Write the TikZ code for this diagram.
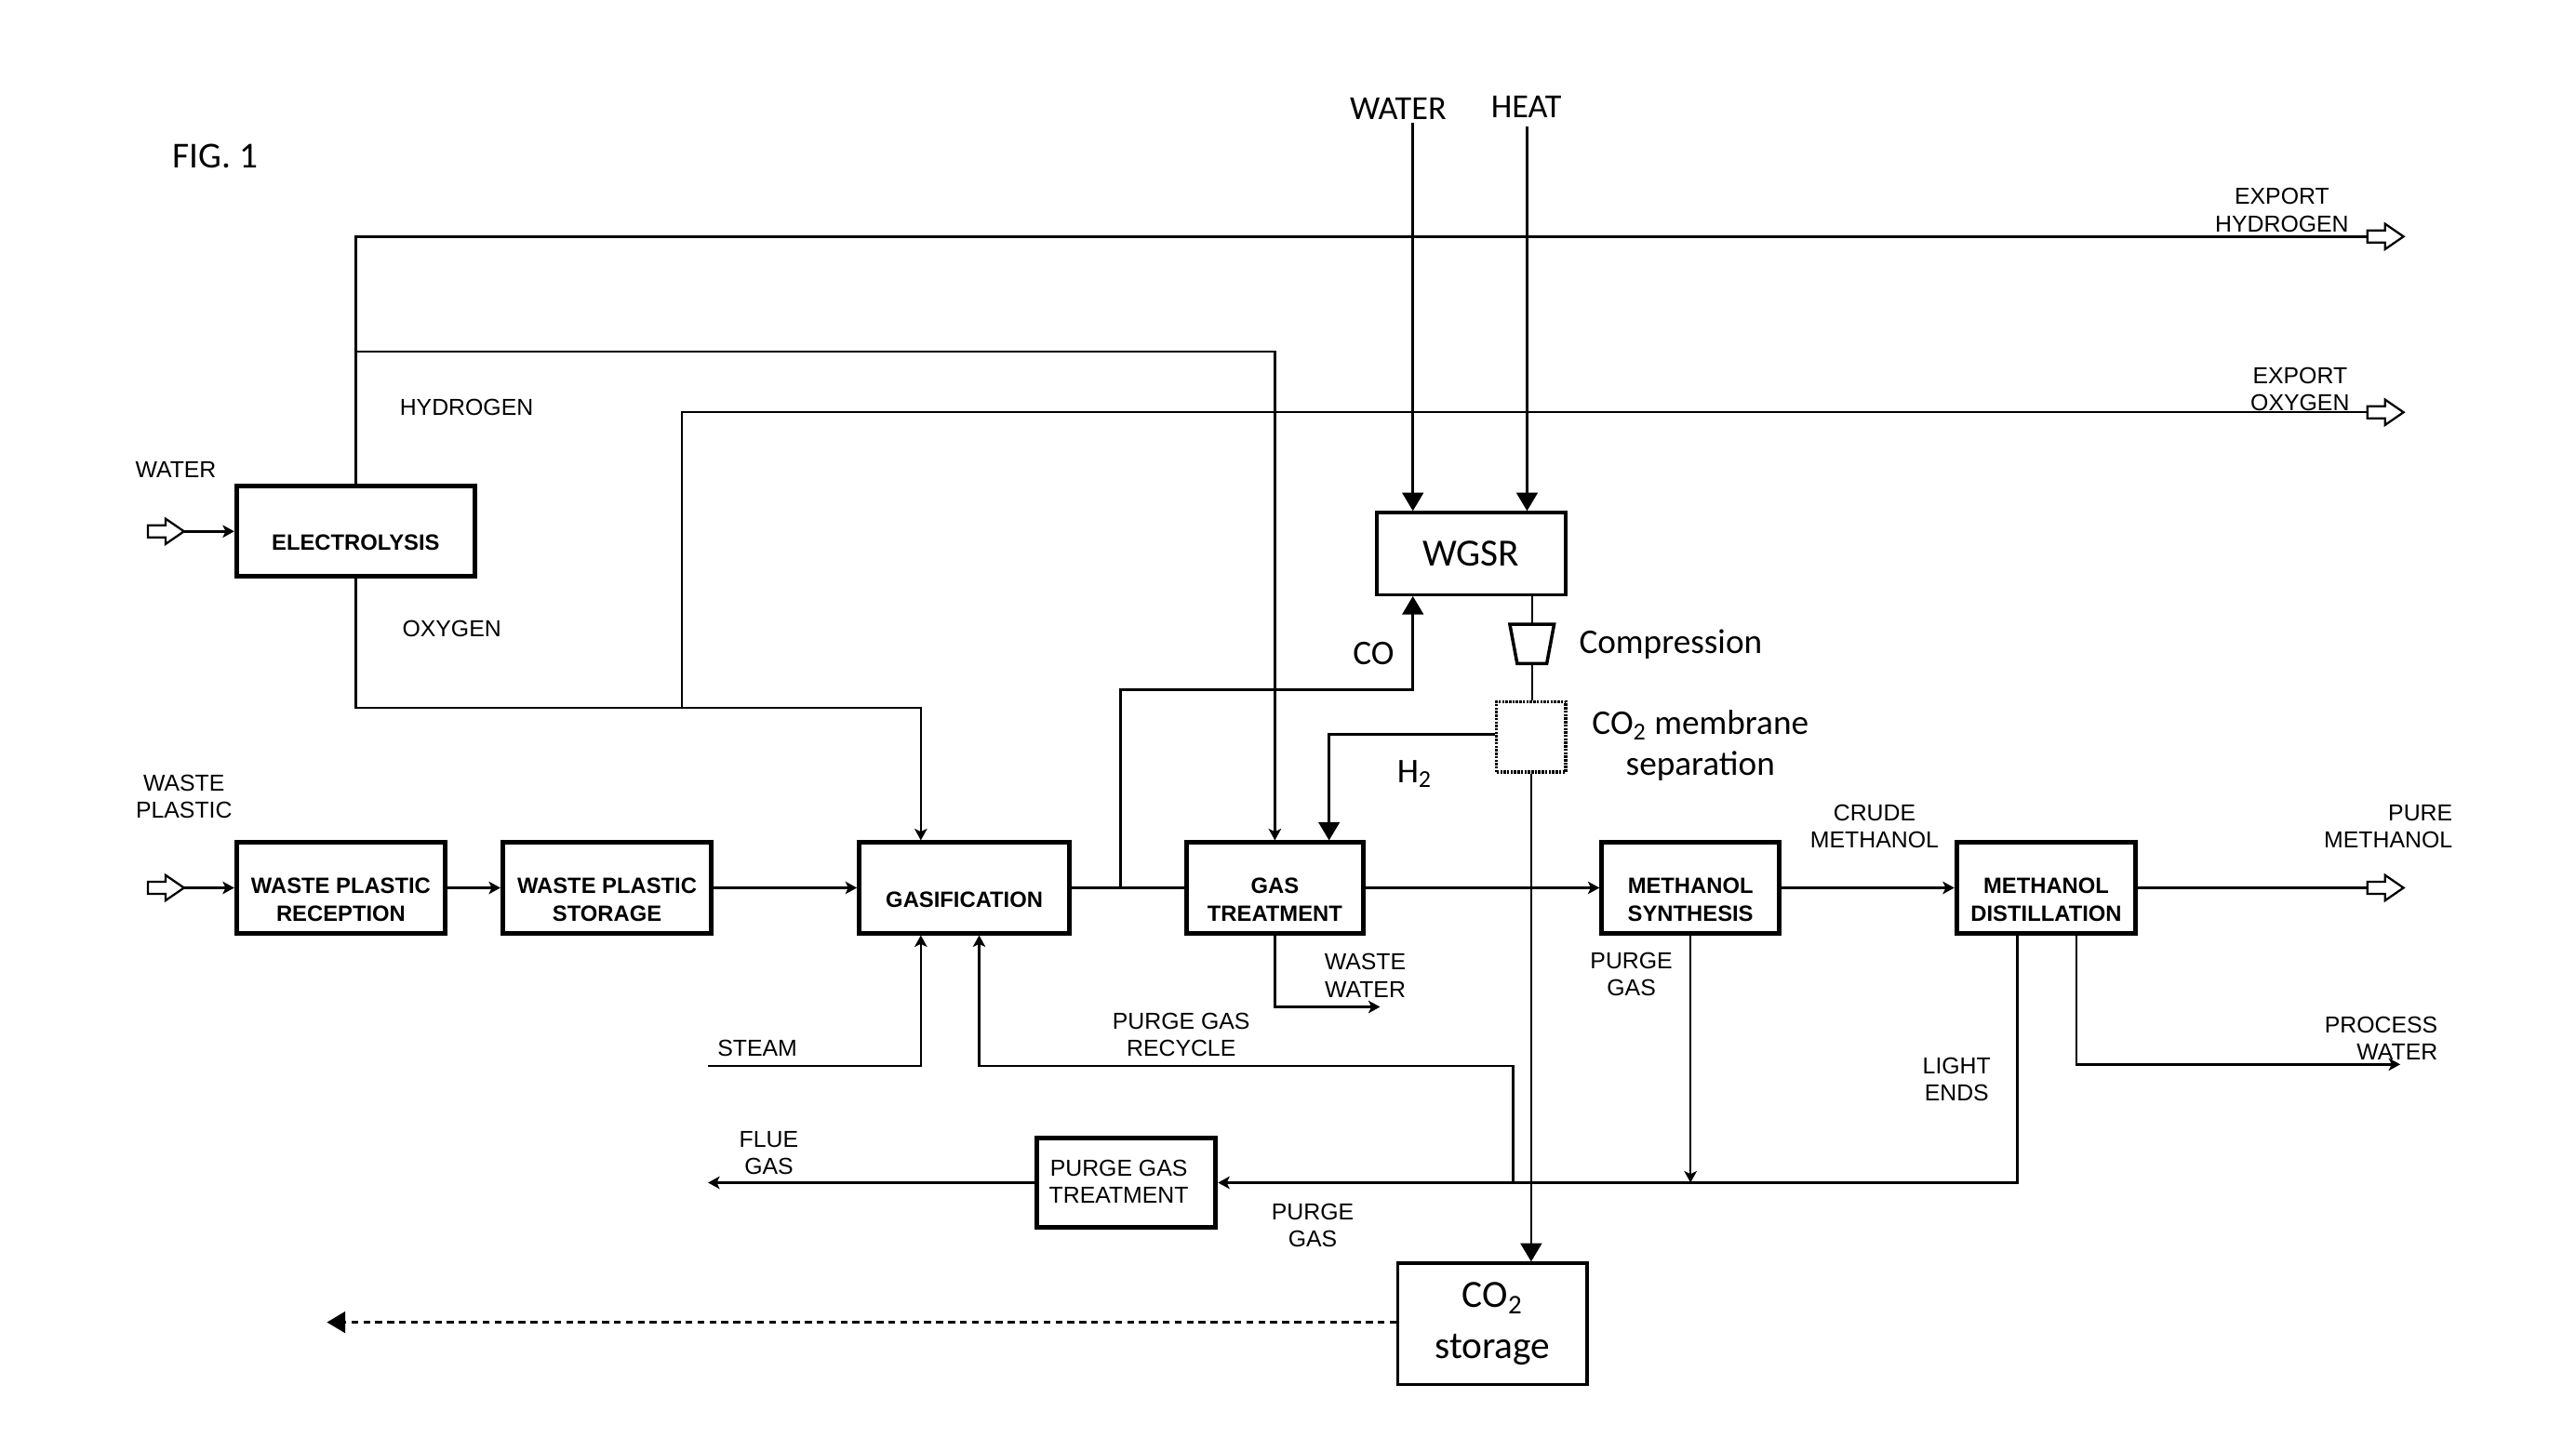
\documentclass[tikz,border=0pt]{standalone}
\usepackage{fontspec}
\setmainfont{Liberation Sans}
\newfontfamily\califont{Carlito}
\usetikzlibrary{arrows.meta}
\begin{document}
\begin{tikzpicture}[x=0.03cm,y=-0.03cm,
  flow/.style={line width=1.2pt},
  sarrow/.style={flow,-{Stealth[length=6pt,width=6.5pt,inset=1.5pt]}},
  barrow/.style={flow,-{Triangle[length=9.5pt,width=11pt]}},
  blk/.style={draw,line width=2.4pt,minimum height=1.65cm,inner sep=0pt},
  cblk/.style={draw,line width=1.6pt,inner sep=0pt,font=\califont\fontsize{20}{26.5}\selectfont,align=center},
  btxt/.style={font=\bfseries\fontsize{11.5}{14.5}\selectfont,align=center,inner sep=0pt},
  lbl/.style={font=\fontsize{12}{14.2}\selectfont,align=center,inner sep=0pt},
  clbl/.style={font=\califont\fontsize{18}{21}\selectfont,align=center,inner sep=0pt},
  openarr/.pic={\draw[line width=1.1pt,fill=white] (0,-3.7) -- (10.8,-3.7) -- (10.8,-7.7) -- (22,0) -- (10.8,7.7) -- (10.8,3.7) -- (0,3.7) -- cycle;}
]
\fill[white] (0,0) rectangle (1568,875);
\useasboundingbox (0,0) rectangle (1568,875);

% ---------- boxes ----------
\node[blk,minimum width=4.35cm] (ele) at (216.5,323.5) {};
\node[btxt] (eletxt) at (216.5,330.5) {ELECTROLYSIS};
\node[blk,minimum width=3.81cm] (wpr) at (207.5,540.5) {};
\node[btxt] (wprtxt) at (207.5,547.5) {WASTE PLASTIC\\RECEPTION};
\node[blk,minimum width=3.81cm] (wps) at (369.5,540.5) {};
\node[btxt] (wpstxt) at (369.5,547.5) {WASTE PLASTIC\\STORAGE};
\node[blk,minimum width=3.84cm] (gas) at (587,540.5) {};
\node[btxt] (gastxt) at (587,547.5) {GASIFICATION};
\node[blk,minimum width=3.24cm] (gt) at (776,540.5) {};
\node[btxt] (gttxt) at (776,547.5) {GAS\\TREATMENT};
\node[blk,minimum width=3.24cm] (ms) at (1029,540.5) {};
\node[btxt] (mstxt) at (1029,547.5) {METHANOL\\SYNTHESIS};
\node[blk,minimum width=3.27cm] (md) at (1245.5,540.5) {};
\node[btxt] (mdtxt) at (1245.5,547.5) {METHANOL\\DISTILLATION};
\node[blk,minimum width=3.27cm,minimum height=1.62cm] (pgt) at (685.5,720) {};
\node[lbl] (pgttxt) at (681,719.5) {PURGE GAS\\TREATMENT};
\node[cblk,minimum width=3.45cm,minimum height=1.5cm] (wgsr) at (895.5,337) {WGSR};
\node[draw,line width=1.5pt,dash pattern=on 1.2pt off 0.6pt,minimum width=1.26cm,minimum height=1.29cm,inner sep=0pt] (mem) at (932,448.5) {};
\node[cblk,minimum width=3.45cm,minimum height=2.22cm] (co2) at (908.5,806) {CO\textsubscript{2}\\storage};

% compressor
\coordinate (comptop) at (932.5,380);
\coordinate (compbot) at (932.5,404);
\draw[line width=1.7pt] (919,380) -- (946,380) -- (941.5,404) -- (923.5,404) -- cycle;
\draw[flow] (wgsr.south -| comptop) -- (comptop);
\draw[flow] (compbot) -- (compbot |- mem.north);

% ---------- electrolysis connections ----------
\coordinate (win) at (90,323.5);
\coordinate (win2) at (112,323.5);
\pic at (win) {openarr};
\draw[sarrow] (win2) -- (ele.west);

\coordinate (h1) at (216.5,144);
\coordinate (hexp) at (1441,144);
\draw[flow] (ele.north) -- (h1) -- (hexp);
\pic at (hexp) {openarr};
\coordinate (hb) at (216.5,214);
\draw[sarrow] (hb) -| (gt.north);

\coordinate (o1) at (216.5,431);
\coordinate (o2) at (560.5,431);
\draw[sarrow] (ele.south) -- (o1) -- (o2) -- (o2 |- gas.north);
\coordinate (o3) at (415,431);
\coordinate (oexp) at (1441,251);
\draw[flow] (o3) |- (oexp);
\pic at (oexp) {openarr};

% ---------- main row ----------
\coordinate (wpin) at (90,540.5);
\coordinate (wpin2) at (112,540.5);
\pic at (wpin) {openarr};
\draw[sarrow] (wpin2) -- (wpr.west);
\draw[sarrow] (wpr) -- (wps);
\draw[sarrow] (wps) -- (gas);
\draw[flow] (gas) -- (gt);
\draw[sarrow] (gt) -- (ms);
\draw[sarrow] (ms) -- (md);
\coordinate (pmexp) at (1441,540.5);
\draw[flow] (md.east) -- (pmexp);
\pic at (pmexp) {openarr};

% ---------- WGSR loop ----------
\coordinate (wl) at (860,75);
\coordinate (hl) at (929.5,77);
\draw[barrow] (wl) -- (wl |- wgsr.north);
\draw[barrow] (hl) -- (hl |- wgsr.north);
\coordinate (co1) at (682,540.5);
\coordinate (co2c) at (860,420);
\draw[barrow] (co1) |- (co2c) -- (co2c |- wgsr.south);
\coordinate (h2c) at (809,447);
\draw[barrow] (mem.west |- h2c) -- (h2c) -- (h2c |- gt.north);
\draw[barrow] (mem.south) -- (mem.south |- co2.north);
\coordinate (dashend) at (199,805);
\draw[barrow,line width=1.2pt,dash pattern=on 3.6pt off 2.6pt] (co2.west |- dashend) -- (dashend);

% ---------- lower streams ----------
\coordinate (ww) at (840,613);
\draw[sarrow] (gt.south) |- (ww);
\coordinate (st) at (431,649);
\coordinate (st2) at (560.5,649);
\draw[sarrow] (st) -- (st2) -- (st2 |- gas.south);
\coordinate (rc1) at (921,720);
\coordinate (rc2) at (596,649);
\draw[sarrow] (rc1) |- (rc2) -- (rc2 |- gas.south);
\coordinate (le) at (1228,720);
\draw[sarrow] (le |- md.south) -- (le) -- (pgt.east);
\draw[sarrow] (ms.south) -- (ms.south |- le);
\coordinate (pwx) at (1264,648);
\coordinate (pw) at (1461,648);
\draw[sarrow] (pwx |- md.south) -- (pwx) -- (pw);
\coordinate (flue) at (431,720);
\draw[sarrow] (pgt.west) -- (flue);

% ---------- labels ----------
\node[clbl,font=\califont\fontsize{19}{22}\selectfont] (fig) at (131,95) {FIG. 1};
\node[clbl,font=\califont\fontsize{17.5}{21}\selectfont] (lwatertop) at (851,66) {WATER};
\node[clbl,font=\califont\fontsize{17.5}{21}\selectfont] (lheat) at (929,65) {HEAT};
\node[clbl,anchor=west] (lcomp) at (961,392) {Compression};
\node[clbl] (lco) at (836,398) {CO};
\node[clbl] (lh2) at (861,471) {H\textsubscript{2}};
\node[clbl] (lmem) at (1035,454) {CO\textsubscript{2} membrane\\separation};

\node[lbl] (lwater) at (107,286) {WATER};
\node[lbl] (lhyd) at (284,248) {HYDROGEN};
\node[lbl] (loxy) at (275,383) {OXYGEN};
\node[lbl] (lwp) at (112,485) {WASTE\\PLASTIC};
\node[lbl] (lexph) at (1389,128) {EXPORT\\HYDROGEN};
\node[lbl] (lexpo) at (1400,237) {EXPORT\\OXYGEN};
\node[lbl] (lsteam) at (461,638) {STEAM};
\node[lbl] (lrec) at (719,630) {PURGE GAS\\RECYCLE};
\node[lbl] (lww) at (831,594) {WASTE\\WATER};
\node[lbl] (lpg1) at (993,593) {PURGE\\GAS};
\node[lbl] (lcrude) at (1141,503) {CRUDE\\METHANOL};
\node[lbl,align=right,anchor=east] (lpure) at (1493,503) {PURE\\METHANOL};
\node[lbl,align=right,anchor=east] (lpw) at (1484,632) {PROCESS\\WATER};
\node[lbl] (lle) at (1191,657) {LIGHT\\ENDS};
\node[lbl] (lflue) at (468,702) {FLUE\\GAS};
\node[lbl] (lpg2) at (799,746) {PURGE\\GAS};
\end{tikzpicture}
\end{document}
